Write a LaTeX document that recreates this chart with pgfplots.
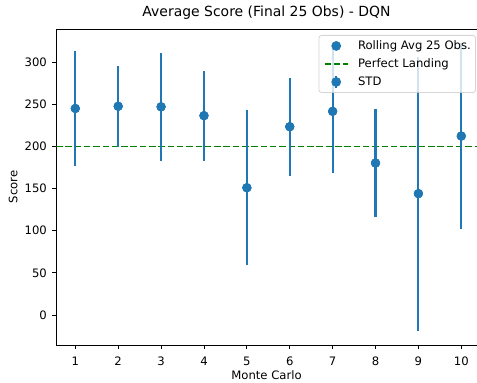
\documentclass[border=0pt]{standalone}
\usepackage{fontspec}
\setmainfont{DejaVu Sans}
\usepackage{pgfplots}
\usepackage{pgfplotstable}
\pgfplotsset{compat=1.18}
\definecolor{c0}{HTML}{1F77B4}
\definecolor{grn}{HTML}{008000}
\definecolor{lgray}{HTML}{CCCCCC}
\pgfplotstableread{
x m e
1 245.0 68.0
2 247.6 48.3
3 247.0 64.0
4 236.5 53.5
5 151.0 92.0
6 223.4 58.0
7 241.6 73.6
8 180.3 63.7
9 144.0 162.6
10 212.3 110.3
}\data
\begin{document}
\begin{tikzpicture}
\useasboundingbox (-56bp,-38bp) rectangle (421bp,345bp);
\begin{axis}[
  scale only axis,
  width=421bp, height=316bp,
  xmin=0.55, xmax=10.366,
  ymin=-35.6, ymax=339.3,
  axis x line=box, axis y line=left,
  xtick={1,...,10},
  ytick={0,50,...,300},
  tick align=outside,
  major tick length=4.1bp,
  every tick/.style={black, line width=0.9bp},
  axis line style={black, line width=0.9bp, -},
  xtick pos=bottom, ytick pos=left,
  /pgf/number format/assume math mode=true,
  font=\fontsize{11.67}{14}\selectfont,
  ticklabel style={font=\fontsize{11.67}{14}\selectfont},
  xticklabel style={anchor=north, inner sep=0pt, yshift=-8bp},
  yticklabel style={anchor=east, inner sep=0pt, xshift=-4.9bp},
  title={Average Score (Final 25 Obs) - DQN},
  title style={at={(axis description cs:0.5,1.0222)}, anchor=base, font=\fontsize{14}{17}\selectfont},
  xlabel={Monte Carlo},
  xlabel style={at={(axis description cs:0.5,-0.1076)}, anchor=base},
  ylabel={Score},
  ylabel style={at={(axis description cs:-0.0918,0.5)}, anchor=base},
  legend style={
    at={(axis description cs:0.9976,0.981)}, anchor=north east,
    draw=lgray, line width=0.9bp, rounded corners=2.5bp,
    fill=white, fill opacity=0.8, text opacity=1, draw opacity=0.8,
    font=\fontsize{11.67}{14}\selectfont,
    inner xsep=4.7bp, inner ysep=1.5bp,
    row sep=0bp,
    nodes={text height=8.9bp, text depth=2.8bp, inner ysep=3.15bp, inner xsep=0bp},
    /tikz/every odd column/.append style={column sep=9.3bp},
  },
  legend cell align=left,
]
\addplot[only marks, mark=*, mark size=4.4bp, color=c0, mark options={draw=none, fill=c0},
  legend image code/.code={\path[draw=none, fill=none] (0bp,0bp) -- (23.3bp,0bp); \fill[c0, opacity=1] (11.65bp,0bp) circle (4.4bp);}]
  table[x=x, y=m] {\data};
\addlegendentry{Rolling Avg 25 Obs.}
\addplot[grn, line width=1.75bp, dash pattern=on 6.5bp off 2.8bp,
  legend image code/.code={\draw[grn, opacity=1, line width=1.75bp, dash pattern=on 6.5bp off 2.8bp] (0bp,0bp) -- (23.3bp,0bp);}]
  coordinates {(0.55,200) (10.366,200)};
\addlegendentry{Perfect Landing}
\addplot[only marks, mark=*, mark size=4.4bp, color=c0, mark options={draw=none, fill=c0},
  legend image code/.code={\path[draw=none, fill=none] (0bp,0bp) -- (23.3bp,0bp); \draw[c0, opacity=1, line width=1.75bp] (11.65bp,-6bp) -- (11.65bp,6bp); \fill[c0, opacity=1] (11.65bp,0bp) circle (4.4bp);},
  error bars/.cd, y dir=both, y explicit, error mark=none,
  error bar style={c0, line width=2.1bp}]
  table[x=x, y=m, y error=e] {\data};
\addlegendentry{STD}
\end{axis}
\end{tikzpicture}
\end{document}
